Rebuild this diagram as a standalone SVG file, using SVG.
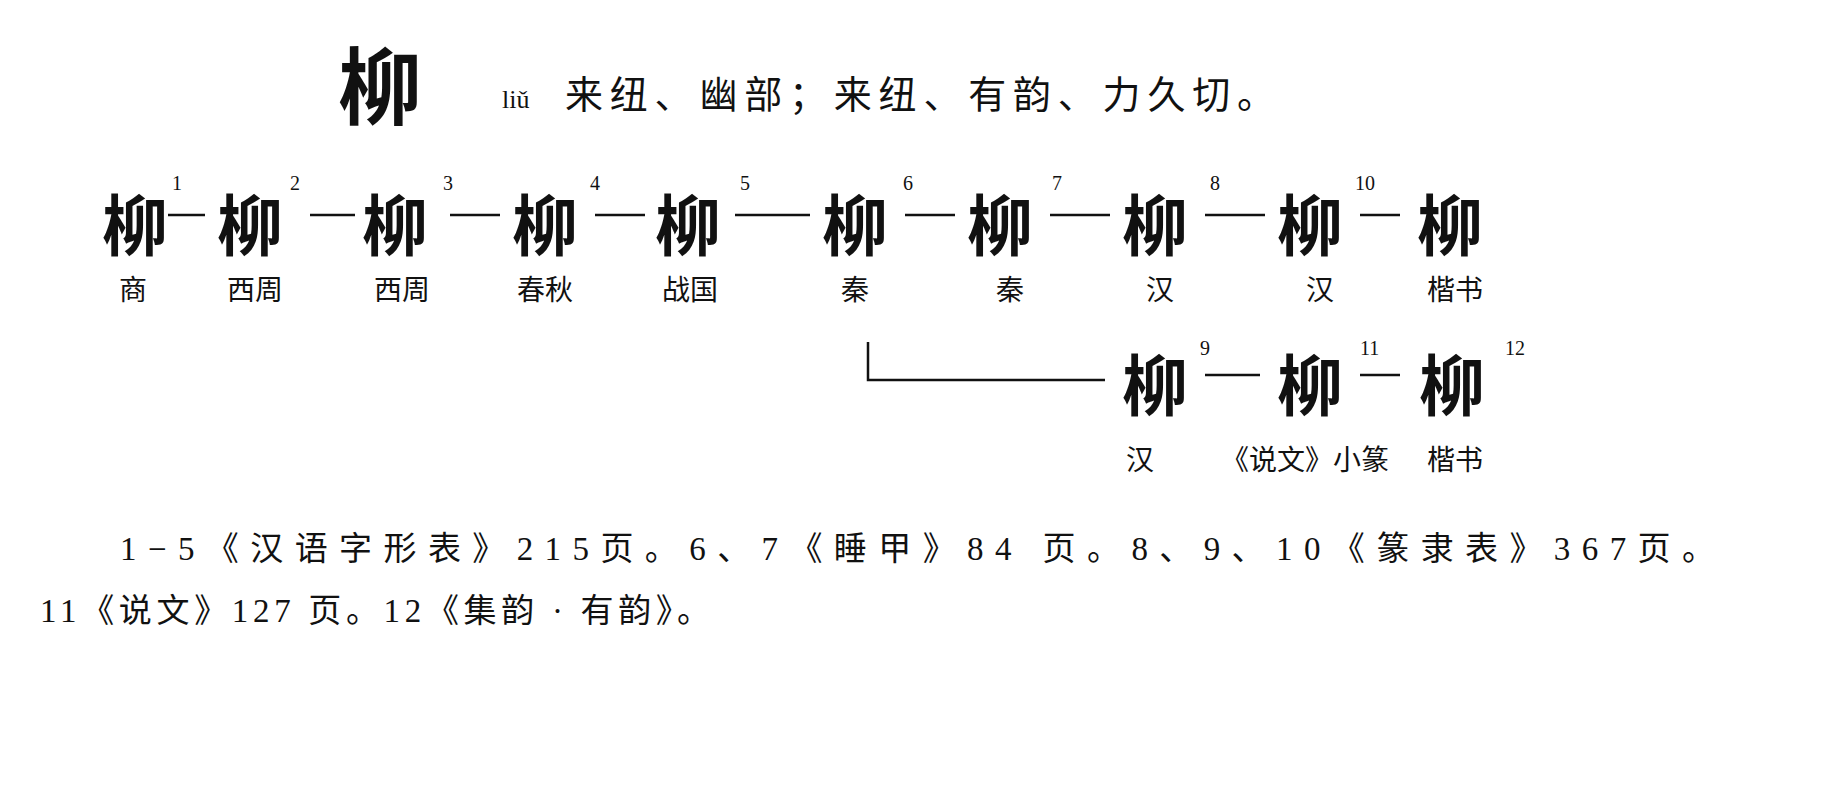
<svg xmlns="http://www.w3.org/2000/svg" width="1833" height="793" viewBox="0 0 1833 793">
<style>
text{font-family:"Liberation Serif","Noto Sans CJK SC",serif;fill:#111}
.g{font-family:"Noto Sans CJK SC",sans-serif;font-size:66px;font-weight:bold;text-anchor:middle}
.n{font-size:20px}
.l{font-size:28px;text-anchor:middle}
.f{font-size:33px}
.c line,.c polyline{stroke:#111;stroke-width:2.5;fill:none}
</style>
<rect width="1833" height="793" fill="#fff"/>
<g id="title">
<text x="380" y="118" style="font-family:'Noto Sans CJK SC',sans-serif;font-size:84px;font-weight:bold" text-anchor="middle">柳</text>
<text x="502" y="108" style="font-size:26px">liǔ</text>
<text x="565" y="108" style="font-size:38px" textLength="710">来纽、幽部；来纽、有韵、力久切。</text>
</g>
<g class="c" id="connectors">
<line x1="168" y1="215" x2="205" y2="215"/>
<line x1="310" y1="215" x2="355" y2="215"/>
<line x1="450" y1="215" x2="500" y2="215"/>
<line x1="595" y1="215" x2="645" y2="215"/>
<line x1="735" y1="215" x2="810" y2="215"/>
<line x1="905" y1="215" x2="955" y2="215"/>
<line x1="1050" y1="215" x2="1110" y2="215"/>
<line x1="1205" y1="215" x2="1265" y2="215"/>
<line x1="1360" y1="215" x2="1400" y2="215"/>
<polyline points="868,342 868,380 1105,380"/>
<line x1="1205" y1="375" x2="1260" y2="375"/>
<line x1="1360" y1="375" x2="1400" y2="375"/>
</g>
<g id="n1"><text class="g" x="135" y="250">柳</text><text class="n" x="172" y="190">1</text><text class="l" x="133" y="300">商</text></g>
<g id="n2"><text class="g" x="250" y="250">柳</text><text class="n" x="290" y="190">2</text><text class="l" x="255" y="300">西周</text></g>
<g id="n3"><text class="g" x="395" y="250">柳</text><text class="n" x="443" y="190">3</text><text class="l" x="402" y="300">西周</text></g>
<g id="n4"><text class="g" x="545" y="250">柳</text><text class="n" x="590" y="190">4</text><text class="l" x="545" y="300">春秋</text></g>
<g id="n5"><text class="g" x="688" y="250">柳</text><text class="n" x="740" y="190">5</text><text class="l" x="690" y="300">战国</text></g>
<g id="n6"><text class="g" x="855" y="250">柳</text><text class="n" x="903" y="190">6</text><text class="l" x="855" y="300">秦</text></g>
<g id="n7"><text class="g" x="1000" y="250">柳</text><text class="n" x="1052" y="190">7</text><text class="l" x="1010" y="300">秦</text></g>
<g id="n8"><text class="g" x="1155" y="250">柳</text><text class="n" x="1210" y="190">8</text><text class="l" x="1160" y="300">汉</text></g>
<g id="n10"><text class="g" x="1310" y="250">柳</text><text class="n" x="1355" y="190">10</text><text class="l" x="1320" y="300">汉</text></g>
<g id="n11k"><text class="g" x="1450" y="250">柳</text><text class="l" x="1455" y="300">楷书</text></g>
<g id="n9"><text class="g" x="1155" y="410">柳</text><text class="n" x="1200" y="355">9</text><text class="l" x="1140" y="470">汉</text></g>
<g id="n11"><text class="g" x="1310" y="410">柳</text><text class="n" x="1360" y="355">11</text><text class="l" x="1305" y="470">《说文》小篆</text></g>
<g id="n12"><text class="g" x="1452" y="410">柳</text><text class="n" x="1505" y="355">12</text><text class="l" x="1455" y="470">楷书</text></g>
<g id="notes">
<text class="f" x="120" y="560" textLength="1595">1−5《汉语字形表》215页。6、7《睡甲》84 页。8、9、10《篆隶表》367页。</text>
<text class="f" x="40" y="622" textLength="670">11《说文》127 页。12《集韵 · 有韵》。</text>
</g>
</svg>
